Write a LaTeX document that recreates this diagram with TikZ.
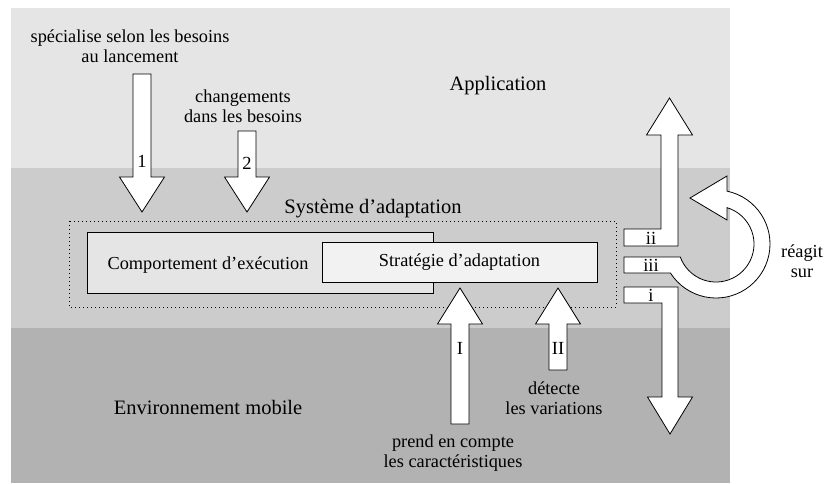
\documentclass[tikz,border=0pt]{standalone}
\usepackage{fontspec}
\setmainfont{Liberation Serif}
\usetikzlibrary{calc}
\definecolor{appgray}{gray}{0.90}
\definecolor{sysgray}{gray}{0.80}
\definecolor{envgray}{gray}{0.70}
\definecolor{compgray}{gray}{0.90}
\definecolor{stratgray}{gray}{0.95}
\begin{document}
\begin{tikzpicture}[x=1pt,y=-1pt,
  txt/.style={font=\fontsize{18.3}{20.5}\selectfont, align=center, inner sep=0pt},
  layertxt/.style={font=\fontsize{20.5}{23}\selectfont, align=center, inner sep=0pt},
  blockarrow/.style={fill=white, draw=black, line width=0.8pt, line join=miter},
  layerbox/.style={draw=black, line width=0.8pt, inner sep=0pt},
  num/.style={font=\fontsize{18.5}{20.5}\selectfont, inner sep=0pt, anchor=base}]
\useasboundingbox (0,0) rectangle (827,483);

% layers
\fill[appgray] (11,8) rectangle (730,168);
\fill[sysgray] (11,168) rectangle (730,328);
\fill[envgray] (11,328) rectangle (730,483);

\node[layertxt] (app) at (498,86) {Application};
\node[layertxt] (sys) at (373,209) {Système d’adaptation};
\node[layertxt] (env) at (208,407) {Environnement mobile};

% adaptation system
\draw[dash pattern=on 0.8pt off 3.2pt, line width=0.9pt] (69,221) rectangle (616,307);
\node[layerbox, fill=compgray, minimum width=346, minimum height=61] (comp) at (260,262.5) {};
\node[txt] (comptxt) at (208,265) {Comportement d’exécution};
\node[layerbox, fill=stratgray, minimum width=275, minimum height=40, txt] (strat) at (459.5,262) {Stratégie d’adaptation};

% arrows from the application
\draw[blockarrow] (133,74) -- (151,74) -- (151,177) -- (164.5,177) -- (142,212) -- (119.5,177) -- (133,177) -- cycle;
\node[num] (n1) at (142,167) {1};
\draw[blockarrow] (238,131) -- (256,131) -- (256,177) -- (269.5,177) -- (247,212) -- (224.5,177) -- (238,177) -- cycle;
\node[num] (n2) at (247,169) {2};
\node[txt] (spec) at (130,46) {spécialise selon les besoins\\au lancement};
\node[txt] (chg) at (243,106) {changements\\dans les besoins};

% arrows from the environment
\draw[blockarrow] (451,424) -- (469,424) -- (469,324) -- (482.5,324) -- (460,288) -- (437.5,324) -- (451,324) -- cycle;
\node[num] (nI) at (460,354) {I};
\draw[blockarrow] (549,370) -- (567,370) -- (567,324) -- (580.5,324) -- (558,288) -- (535.5,324) -- (549,324) -- cycle;
\node[num] (nII) at (558,354) {II};
\node[txt] (prend) at (453,453) {prend en compte\\les caractéristiques};
\node[txt] (detect) at (554,398) {détecte\\les variations};

% reactions
\draw[blockarrow] (624,229) -- (661,229) -- (661,135) -- (646.5,135) -- (669.5,98) -- (692.5,135) -- (678,135) -- (678,246) -- (624,246) -- cycle;
\node[num] (nii) at (651,244) {ii};
\coordinate (c) at (716,244);
\draw[blockarrow] (624,257) -- ($(c)+(160:38)$) arc[start angle=160, end angle=-73.2, radius=38]
  -- (727,220) -- (690,198) -- (727,176) -- ($(c)+(-78.2:54)$)
  arc[start angle=-78.2, end angle=147.5, radius=54] -- (624,273) -- cycle;
\node[num] (niii) at (651,271) {iii};
\draw[blockarrow] (624,287) -- (678,287) -- (678,397) -- (692.5,397) -- (670,434) -- (647.5,397) -- (662,397) -- (662,303) -- (624,303) -- cycle;
\node[num] (ni) at (651,301) {i};
\node[txt] (reagit) at (802,261) {réagit\\sur};
\end{tikzpicture}
\end{document}
